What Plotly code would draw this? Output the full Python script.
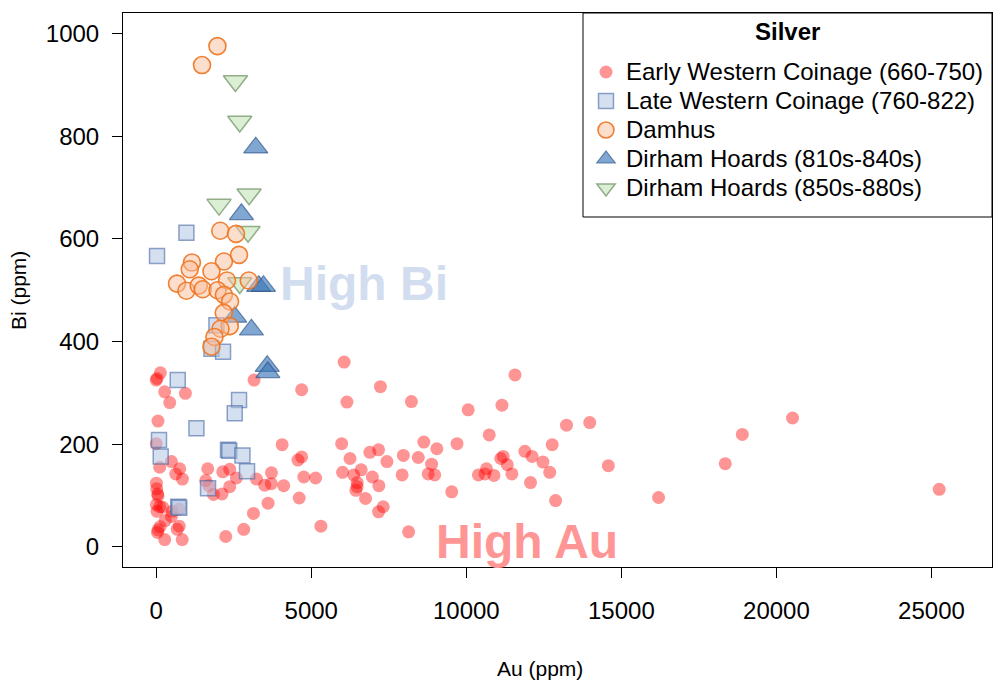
import plotly.graph_objects as go

# ---------------- data (Au ppm, Bi ppm) ----------------
ewc_au = [6060, 4690, 7230, 6150, 8230, 10060, 4060, 5980, 6890, 7170, 8630, 9050, 9700, 4690, 4570,
          6250, 7440, 7970, 8450, 8880, 4760, 5140, 4110, 6010, 6610, 6370, 6970, 7930, 8770, 8980,
          6480, 6480, 6440, 7180, 10390, 4610, 6750, 9530, 7320, 7170, 5310, 8140, 11570, 11150, 13230,
          13980, 10740, 12770, 11890, 12120, 11190, 11110, 12470, 11320, 10650, 10600, 10890, 11470, 12690, 14580,
          12070, 12880, 16200, 18350, 18900, 20520, 25250, 135, 0, 26, 274, 942, 436, 58, 3155,
          0, 490, 113, 758, 629, 845, 1661, 2145, 2371, 2587, 3233, 3716, 3500, 3710, 1597,
          1694, 2371, 2123, 1845, 3607, 3136, 2823, 2242, 6, 16, 48, 58, 6, 113, 26,
          210, 516, 736, 490, 290, 123, 42, 742, 677, 274, 839, 58]
ewc_bi = [360, 306, 312, 282, 283, 267, 199, 201, 184, 189, 204, 191, 201, 175, 169,
          172, 166, 178, 174, 161, 136, 134, 119, 145, 150, 140, 136, 140, 142, 140,
          125, 117, 110, 119, 140, 95, 94, 107, 78, 68, 40, 29, 335, 276, 237,
          242, 218, 199, 186, 176, 176, 172, 165, 160, 152, 142, 139, 142, 145, 158,
          125, 90, 96, 162, 219, 251, 112, 339, 325, 328, 302, 299, 281, 245, 325,
          201, 166, 155, 152, 142, 132, 152, 146, 151, 134, 132, 144, 120, 123, 129,
          119, 117, 103, 102, 85, 65, 34, 20, 124, 113, 103, 99, 82, 78, 69,
          77, 69, 73, 59, 51, 39, 28, 40, 34, 14, 14, 33]

lwc_au = [26, 974, 1942, 1781, 2155, 694, 2671, 2532, 1297, 90, 145, 2316, 2355, 2781, 2929, 1671, 710, 742]
lwc_bi = [567, 612, 432, 386, 380, 325, 286, 260, 231, 208, 176, 189, 187, 178, 147, 114, 78, 76]

dam_au = [1974, 1477, 2065, 2574, 2671, 2184, 1152, 1081, 1781, 671, 974, 1371, 1500, 2284, 2984,
          1978, 2184, 2381, 2178, 2371, 2074, 1878, 1781]
dam_bi = [976, 939, 616, 610, 569, 556, 554, 541, 537, 513, 499, 509, 502, 519, 519,
          500, 491, 478, 456, 430, 425, 409, 390]

dh1_au = [3210, 2749, 3307, 3458, 2532, 3071, 3580, 3600]
dh1_bi = [778, 648, 508, 508, 448, 423, 352, 340]

dh2_au = [2555, 2694, 2994, 2026, 2961, 2694]
dh2_bi = [908, 829, 687, 667, 614, 514]

names = ["Early Western Coinage (660-750)", "Late Western Coinage (760-822)", "Damhus",
         "Dirham Hoards (810s-840s)", "Dirham Hoards (850s-880s)"]
legend_title = "Silver"

x_ticks = [0, 5000, 10000, 15000, 20000, 25000]
y_ticks = [0, 200, 400, 600, 800, 1000]

FONT = "Liberation Sans, Arial, sans-serif"

# plot-area geometry in pixels (for paper-coordinate placement of decorations)
L, R, T, B = 123, 992, 13, 567
PW, PH = R - L, B - T


def px(xp):
    return (xp - L) / PW


def py(yp):
    return (B - yp) / PH


def leg(name):
    return '<span style="font-size:24px">' + name + '</span>'


fig = go.Figure()

fig.add_trace(go.Scatter(
    x=ewc_au, y=ewc_bi, mode="markers", name=leg(names[0]), legendrank=1,
    marker=dict(symbol="circle", size=13, color="rgba(255,0,0,0.42)",
                line=dict(width=0))))
fig.add_trace(go.Scatter(
    x=lwc_au, y=lwc_bi, mode="markers", name=leg(names[1]), legendrank=2,
    marker=dict(symbol="square", size=15, color="rgba(176,196,226,0.55)",
                line=dict(width=1.5, color="rgba(70,105,165,0.6)"))))
fig.add_trace(go.Scatter(
    x=dh1_au, y=dh1_bi, mode="markers", name=leg(names[3]), legendrank=4,
    marker=dict(symbol="triangle-up", size=21, color="rgba(60,120,185,0.65)",
                line=dict(width=1.2, color="rgba(50,90,140,0.7)"))))
fig.add_trace(go.Scatter(
    x=dh2_au, y=dh2_bi, mode="markers", name=leg(names[4]), legendrank=5,
    marker=dict(symbol="triangle-down", size=21, color="rgba(200,230,190,0.65)",
                line=dict(width=1.5, color="rgba(130,160,120,0.85)"))))
fig.add_trace(go.Scatter(
    x=dam_au, y=dam_bi, mode="markers", name=leg(names[2]), legendrank=3,
    marker=dict(symbol="circle", size=17, color="rgba(250,190,155,0.5)",
                line=dict(width=1.6, color="rgba(238,115,30,0.9)"))))

fig.add_annotation(x=6700, y=513, xref="x", yref="y", text="<b>High Bi</b>", showarrow=False,
                   font=dict(family=FONT, size=48, color="rgb(210,222,240)"),
                   xanchor="center", yanchor="middle")
fig.add_annotation(x=11950, y=10, xref="x", yref="y", text="<b>High Au</b>", showarrow=False,
                   font=dict(family=FONT, size=48, color="rgb(255,150,150)"),
                   xanchor="center", yanchor="middle")

# legend frame (white box with black border)
fig.add_shape(type="rect", xref="paper", yref="paper", x0=px(583), x1=px(992), y0=py(217), y1=py(13),
              line=dict(color="black", width=1), fillcolor="white", layer="above")
fig.add_annotation(x=px(787.5), y=py(31.5), xref="paper", yref="paper", text="<b>" + legend_title + "</b>",
                   showarrow=False, xanchor="center", yanchor="middle",
                   font=dict(family=FONT, size=24, color="black"))

fig.update_layout(
    width=993, height=684,
    margin=dict(l=L, r=993 - R, t=T, b=684 - B),
    paper_bgcolor="white", plot_bgcolor="white",
    font=dict(family=FONT, size=24, color="black"),
    showlegend=True,
    legend=dict(
        x=px(586), y=py(52.5), xanchor="left", yanchor="top",
        bgcolor="rgba(0,0,0,0)", borderwidth=0,
        font=dict(family=FONT, size=20, color="black"),
        itemsizing="trace",
    ),
    xaxis=dict(range=[-1071, 26952], tickvals=x_ticks, ticktext=[str(v) for v in x_ticks],
               showgrid=False, zeroline=False, showline=True, mirror=True,
               linecolor="black", linewidth=1, ticks="outside", ticklen=10, tickcolor="black",
               tickfont=dict(family=FONT, size=24), ticklabelstandoff=12),
    yaxis=dict(range=[-39.5, 1040.5], tickvals=y_ticks, ticktext=[str(v) for v in y_ticks],
               showgrid=False, zeroline=False, showline=True, mirror=True,
               linecolor="black", linewidth=1, ticks="outside", ticklen=10, tickcolor="black",
               tickfont=dict(family=FONT, size=24), ticklabelstandoff=8),
)

fig.add_annotation(x=px(540), y=py(668), xref="paper", yref="paper",
                   text="Au (ppm)", showarrow=False, xanchor="center", yanchor="middle",
                   font=dict(family=FONT, size=21, color="black"))
fig.add_annotation(x=px(18), y=py(291), xref="paper", yref="paper",
                   text="Bi (ppm)", showarrow=False, xanchor="center", yanchor="middle",
                   textangle=-90, font=dict(family=FONT, size=21, color="black"))

fig.write_html("out.html")
